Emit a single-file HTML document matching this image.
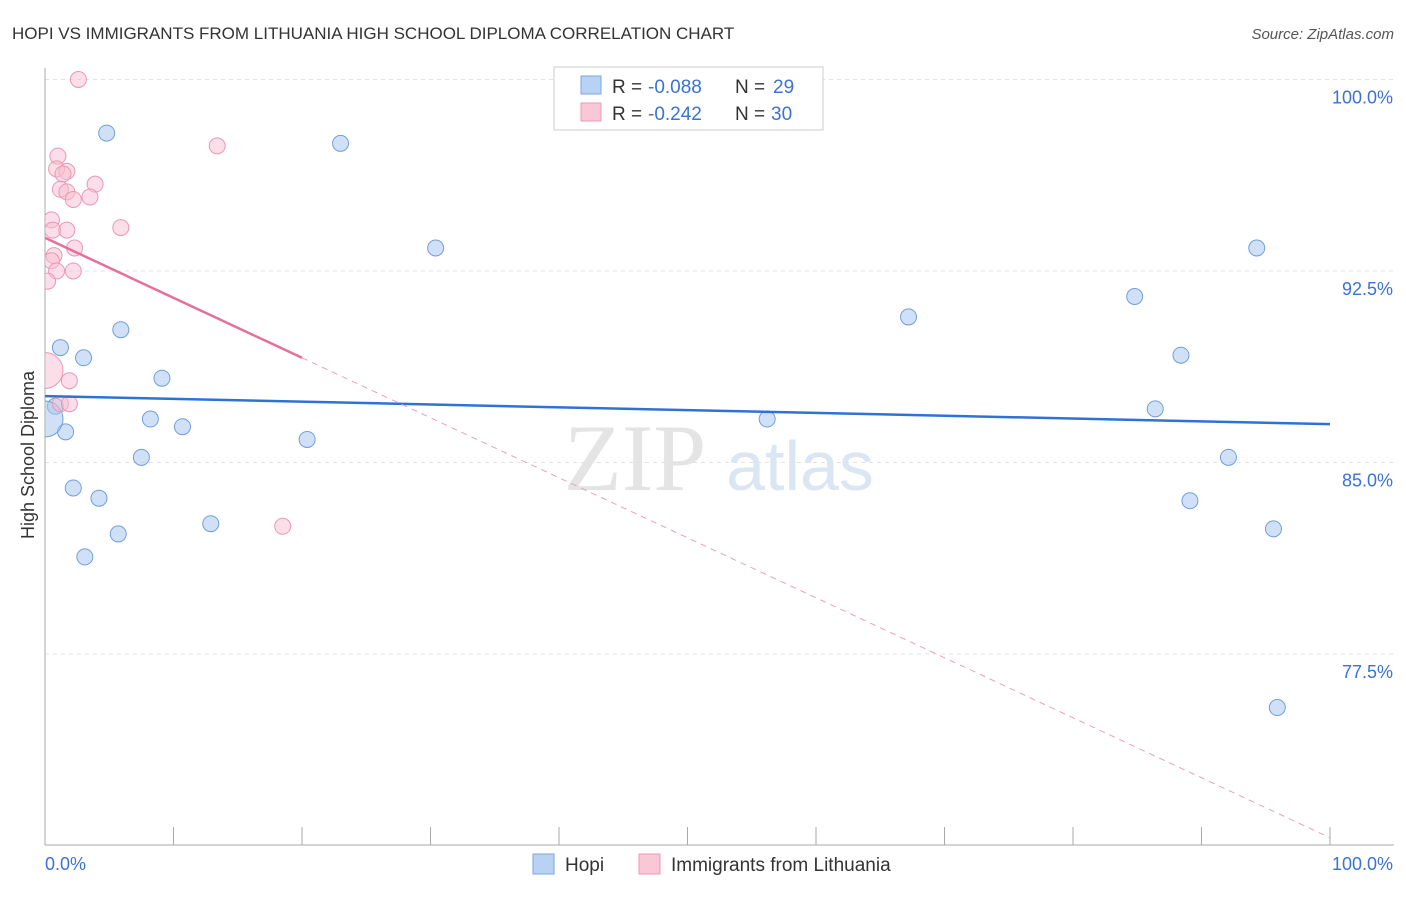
<!DOCTYPE html>
<html><head><meta charset="utf-8"><style>
body{margin:0;background:#fff;font-family:"Liberation Sans",sans-serif;}
</style></head><body>
<svg id="chart" width="1406" height="892" xmlns="http://www.w3.org/2000/svg" font-family="Liberation Sans, sans-serif">
<defs><clipPath id="plotclip"><rect x="45" y="60" width="1360" height="785"/></clipPath></defs>
<text x="12" y="39" font-size="17" fill="#333">HOPI VS IMMIGRANTS FROM LITHUANIA HIGH SCHOOL DIPLOMA CORRELATION CHART</text>
<text x="1394" y="39" font-size="15" fill="#555" font-style="italic" text-anchor="end">Source: ZipAtlas.com</text>
<text x="635" y="490" font-size="95" fill="#e4e4e4" font-family="Liberation Serif, serif" text-anchor="middle">ZIP</text>
<text x="800" y="490" font-size="70" fill="#dbe6f5" text-anchor="middle">atlas</text>
<text x="34" y="455" font-size="18" fill="#333" text-anchor="middle" transform="rotate(-90 34 455)">High School Diploma</text>
<g id="grid"></g><g id="axes"></g><g id="marks" clip-path="url(#plotclip)"></g>
<g>
<rect x="554" y="67" width="269" height="63" fill="#fff" stroke="#ccc"/>
<rect x="581" y="76" width="20" height="18" fill="#b8d2f3" stroke="#7aa6e0"/>
<text x="612" y="93" font-size="19" fill="#333">R =</text>
<text x="648" y="93" font-size="19" fill="#3a72d6">-0.088</text>
<text x="735" y="93" font-size="19" fill="#333">N =</text>
<text x="773" y="93" font-size="19" fill="#3a72d6">29</text>
<rect x="581" y="103" width="20" height="18" fill="#f9c7d6" stroke="#eb9ab3"/>
<text x="612" y="120" font-size="19" fill="#333">R =</text>
<text x="648" y="120" font-size="19" fill="#3a72d6">-0.242</text>
<text x="735" y="120" font-size="19" fill="#333">N =</text>
<text x="771" y="120" font-size="19" fill="#3a72d6">30</text>
</g>
<g>
<rect x="533" y="854" width="21" height="20" fill="#b8d2f3" stroke="#7aa6e0"/>
<text x="565" y="871" font-size="19" fill="#333">Hopi</text>
<rect x="639" y="854" width="21" height="20" fill="#f9c7d6" stroke="#eb9ab3"/>
<text x="671" y="871" font-size="19" fill="#333">Immigrants from Lithuania</text>
</g>
</svg>
<script>
const yTicks=[77.5,85.0,92.5,100.0];
const xTickCount=10;
const hopiX=[4.8,23.0,30.4,1.2,5.9,3.0,9.1,0.8,1.6,8.2,10.7,20.4,7.5,2.2,4.2,12.9,5.7,3.1,56.2,67.2,84.8,94.3,88.4,86.4,92.1,89.1,95.6,95.9,0];
const hopiY=[97.9,97.5,93.4,89.5,90.2,89.1,88.3,87.2,86.2,86.7,86.4,85.9,85.2,84.0,83.6,82.6,82.2,81.3,86.7,90.7,91.5,93.4,89.2,87.1,85.2,83.5,82.4,75.4,86.7];
const lithX=[2.6,13.4,1.0,0.9,1.7,1.4,3.9,1.2,1.7,3.5,2.2,0.5,5.9,0.6,1.7,2.3,0.7,0.5,0.9,2.2,0.2,1.9,1.2,1.9,18.5,0];
const lithY=[100.0,97.4,97.0,96.5,96.4,96.3,95.9,95.7,95.6,95.4,95.3,94.5,94.2,94.1,94.1,93.4,93.1,92.9,92.5,92.5,92.1,88.2,87.3,87.3,82.5,88.6];
const hopiTrend=[87.6,86.5];
const lithTrend=[93.8,70.3];
const NS="http://www.w3.org/2000/svg";
const X=v=>45+v*12.85, Y=v=>79.5+(100-v)*25.53;
function mk(p,t,a){const e=document.createElementNS(NS,t);for(const k in a)e.setAttribute(k,a[k]);document.getElementById(p).appendChild(e);return e;}
yTicks.forEach(t=>{
 const l=mk('grid','line',{x1:45,x2:1394,y1:Y(t),y2:Y(t),stroke:'#e2e2e2','stroke-dasharray':'4,4'});
 
 
 const tx=mk('grid','text',{x:1393,y:Y(t)+24,'font-size':18,fill:'#3a72d6','text-anchor':'end'});tx.textContent=t.toFixed(1)+'%';
 
 
});
let a=mk('axes','line',{x1:45,x2:45,y1:68,y2:845,stroke:'#aaa'});


a=mk('axes','line',{x1:45,x2:1394,y1:845,y2:845,stroke:'#aaa'});


for(let i=1;i<=xTickCount;i++){const t=mk('axes','line',{x1:X(i*10),x2:X(i*10),y1:827,y2:845,stroke:'#aaa'});
 
 }
let t0=mk('axes','text',{x:45,y:870,'font-size':18,fill:'#3a72d6'});t0.textContent='0.0%';


t0=mk('axes','text',{x:1393,y:870,'font-size':18,fill:'#3a72d6','text-anchor':'end'});t0.textContent='100.0%';


hopiX.forEach((x,i)=>{const c=mk('marks','circle',{cx:X(x),cy:Y(hopiY[i]),r:x===0?18:8,fill:'rgba(170,200,240,0.55)',stroke:'#6f9fdc','stroke-width':1});
 
 });
lithX.forEach((x,i)=>{const c=mk('marks','circle',{cx:X(x),cy:Y(lithY[i]),r:x===0?18:8,fill:'rgba(248,190,208,0.5)',stroke:'#eb98b2','stroke-width':1});
 
 });
let l=mk('marks','line',{x1:X(0),y1:Y(hopiTrend[0]),x2:X(100),y2:Y(hopiTrend[1]),stroke:'#2f72d6','stroke-width':2.5});


const ly=x=>lithTrend[0]+(lithTrend[1]-lithTrend[0])*x/100;
l=mk('marks','line',{x1:X(0),y1:Y(ly(0)),x2:X(20),y2:Y(ly(20)),stroke:'#e5709a','stroke-width':2.5});


l=mk('marks','line',{x1:X(20),y1:Y(ly(20)),x2:X(100),y2:Y(ly(100)),stroke:'#eaa0b8','stroke-width':1,'stroke-dasharray':'6,5'});


</script>
</body></html>
